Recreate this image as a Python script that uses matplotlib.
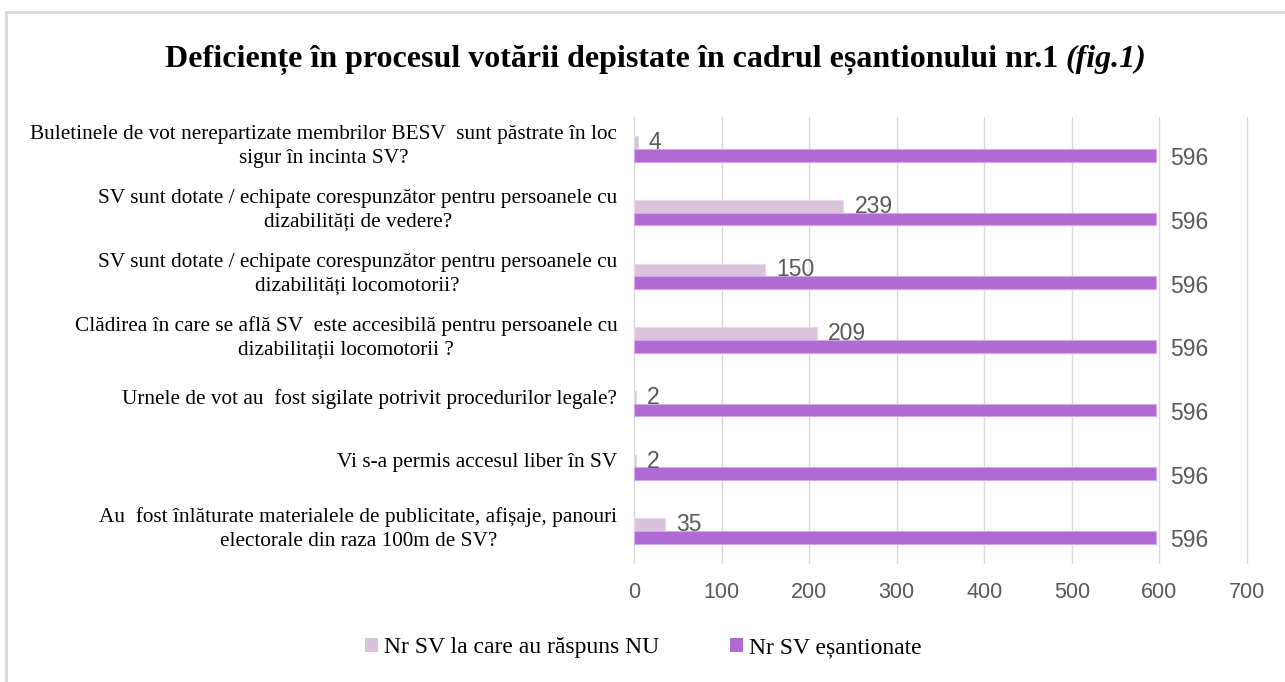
import matplotlib
matplotlib.use("Agg")
import matplotlib.pyplot as plt
import matplotlib.transforms as mtransforms
from matplotlib.patches import Rectangle, Patch
import numpy as np

categories = [
    "Buletinele de vot nerepartizate membrilor BESV  sunt păstrate în loc\nsigur în incinta SV?",
    "SV sunt dotate / echipate corespunzător pentru persoanele cu\ndizabilități de vedere?",
    "SV sunt dotate / echipate corespunzător pentru persoanele cu\ndizabilități locomotorii?",
    "Clădirea în care se află SV  este accesibilă pentru persoanele cu\ndizabilitații locomotorii ?",
    "Urnele de vot au  fost sigilate potrivit procedurilor legale?",
    "Vi s-a permis accesul liber în SV",
    "Au  fost înlăturate materialele de publicitate, afișaje, panouri\nelectorale din raza 100m de SV?",
]
nu_values = [4, 239, 150, 209, 2, 2, 35]
sampled_values = [596, 596, 596, 596, 596, 596, 596]
series_names = ["Nr SV la care au răspuns NU", "Nr SV eșantionate"]
x_ticks = [0, 100, 200, 300, 400, 500, 600, 700]

light = "#D9C3DB"
dark = "#AF6BD3"
gray_text = "#595959"
serif = ["Liberation Serif", "DejaVu Serif"]
sans = ["Liberation Sans", "DejaVu Sans"]

fig = plt.figure(figsize=(12.85, 6.82), dpi=100)
ax = fig.add_axes([634 / 1285, 1 - 563 / 682, (1247 - 634) / 1285, (563 - 117) / 682])

y = np.arange(len(categories))
h = 0.2
b1 = ax.barh(y - h / 2, nu_values, height=h, color=light, edgecolor="#E6D8E8", linewidth=0.8,
             label=series_names[0], zorder=3)
b2 = ax.barh(y + h / 2, sampled_values, height=h, color=dark, edgecolor="#D3A8EA", linewidth=0.8,
             label=series_names[1], zorder=3)

for rect, v in zip(b1, nu_values):
    ax.annotate(str(v), xy=(rect.get_width(), rect.get_y() + rect.get_height() / 2),
                xytext=(8, 0), textcoords="offset points", va="center", ha="left",
                fontsize=16.5, color=gray_text, family=sans, zorder=4)
for rect, v in zip(b2, sampled_values):
    ax.annotate(str(v), xy=(rect.get_width(), rect.get_y() + rect.get_height() / 2),
                xytext=(10, -2.5), textcoords="offset points", va="center", ha="left",
                fontsize=16.5, color=gray_text, family=sans, zorder=4)

ax.set_xlim(0, 700)
ax.set_ylim(len(categories) - 0.5, -0.5)
ax.set_xticks(x_ticks)
ax.set_xticklabels([str(t) for t in x_ticks], fontsize=15.5, color=gray_text, family=sans)
ax.set_yticks(y)
ax.set_yticklabels(categories, fontsize=15.3, family=serif, multialignment="center",
                   color="black", linespacing=1.35)
ax.tick_params(axis="y", length=0, pad=12)
ax.tick_params(axis="x", length=0, pad=14)
shift = mtransforms.ScaledTranslation(0, 7 / 100, fig.dpi_scale_trans)
for lbl in ax.get_yticklabels():
    lbl.set_transform(lbl.get_transform() + shift)
ax.grid(axis="x", color="#D9D9D9", linewidth=1, zorder=0)
for gl in ax.get_xgridlines():
    gl.set_clip_on(False)
for s in ax.spines.values():
    s.set_visible(False)

# figure border
fig.patches.append(Rectangle((6 / 1285, -0.1), 1.2, 1 - 12 / 682 + 0.1, transform=fig.transFigure,
                             fill=False, edgecolor="#D9D9D9", linewidth=2, zorder=0))

# title
ty = 1 - 67 / 682
t1 = fig.text(1058 / 1285, ty, "Deficiențe în procesul votării depistate în cadrul eșantionului nr.1",
              ha="right", va="baseline", fontsize=23, fontweight="bold", family=serif)
fig.canvas.draw()
bb = t1.get_window_extent()
t2 = fig.text((bb.x1 + 7) / fig.bbox.width, ty, "(fig.1)", ha="left", va="baseline",
              fontsize=23, fontweight="bold", fontstyle="italic", family=serif)

handles = [Patch(facecolor=light, edgecolor="none"), Patch(facecolor=dark, edgecolor="none")]
fig.legend(handles, series_names, loc="center", bbox_to_anchor=(643 / 1285, 1 - 648 / 682),
           ncol=2, frameon=False, prop={"family": serif, "size": 17},
           handlelength=0.55, handleheight=0.55, handletextpad=0.25, columnspacing=3.0)

fig.savefig("out.png", dpi=100)
